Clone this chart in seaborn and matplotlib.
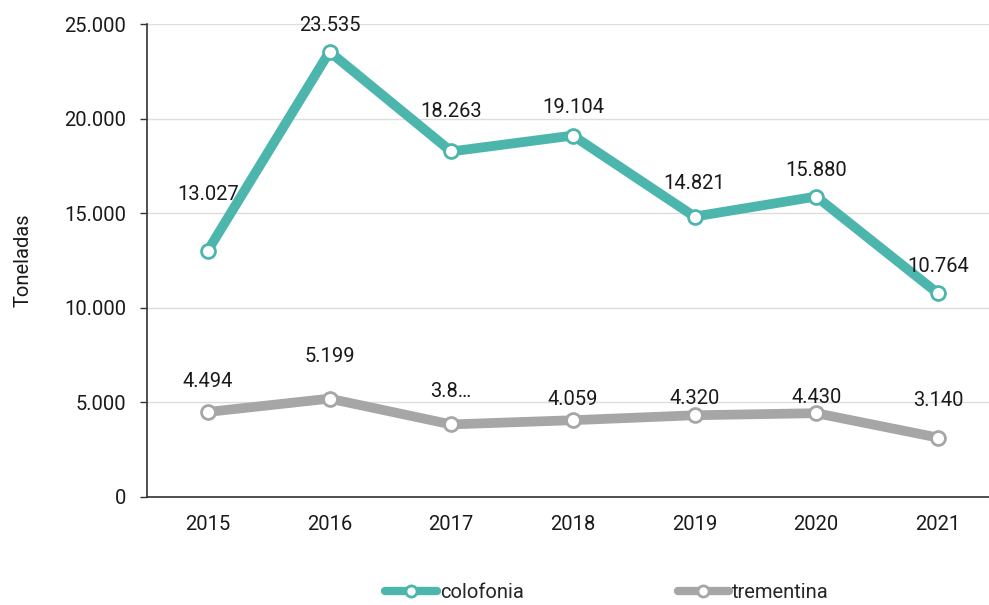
import seaborn as sns
import matplotlib.pyplot as plt
import matplotlib.ticker as mticker
import pandas as pd

years = ["2015", "2016", "2017", "2018", "2019", "2020", "2021"]
colofonia = [13027, 23535, 18263, 19104, 14821, 15880, 10764]
trementina = [4494, 5199, 3836, 4059, 4320, 4430, 3140]
trementina_labels = ["4.494", "5.199", "3.8…", "4.059", "4.320", "4.430", "3.140"]
series_names = ["colofonia", "trementina"]
colors = ["#4DB6AC", "#A6A6A6"]

# label offsets in points (mimic the spreadsheet placement)
col_off = [40, 19, 29, 20, 24, 19, 19]
tre_off = [22, 30, 24, 15, 12, 11, 27]
FS = 14.5


def fmt(v):
    return f"{v:,.0f}".replace(",", ".")


sns.set_style("white")
plt.rcParams["font.family"] = ["Roboto", "DejaVu Sans"]

df = pd.DataFrame({
    "pos": list(range(len(years))) * 2,
    "value": colofonia + trementina,
    "serie": ["colofonia"] * len(years) + ["trementina"] * len(years),
})

fig = plt.figure(figsize=(9.89, 6.05), dpi=100)
ax = fig.add_axes([147 / 989, 108 / 605, 842 / 989, 473 / 605])
sns.lineplot(data=df, x="pos", y="value", hue="serie", hue_order=series_names,
             palette=colors, linewidth=7, marker="o", markersize=10,
             markerfacecolor="white", markeredgewidth=2, ax=ax, legend=False)
for line, c in zip(ax.lines, colors):
    line.set_markeredgecolor(c)

for i, v in enumerate(colofonia):
    ax.annotate(fmt(v), (i, v), xytext=(0, col_off[i]), textcoords="offset points",
                ha="center", va="center", fontsize=FS, color="#1a1a1a")
for i, v in enumerate(trementina):
    ax.annotate(trementina_labels[i], (i, v), xytext=(0, tre_off[i]), textcoords="offset points",
                ha="center", va="center", fontsize=FS, color="#1a1a1a")

ax.set_yticks(range(0, 25001, 5000))
ax.yaxis.set_major_formatter(mticker.FuncFormatter(lambda v, p: fmt(v)))
ax.set_xticks(range(len(years)))
ax.set_xticklabels(years)
ax.set_xticks([x - 0.5 for x in range(len(years) + 1)], minor=True)
ax.set_xlim(-0.5, 6.42)
ax.set_ylim(0, 25000)
ax.tick_params(axis="x", which="major", length=0, pad=13, labelsize=FS, labelcolor="#1a1a1a")
ax.tick_params(axis="x", which="minor", length=5, width=1, color="#333333")
ax.tick_params(axis="y", length=5, width=1, color="#333333", labelsize=FS, pad=10,
               left=True, labelcolor="#1a1a1a")
ax.grid(axis="y", color="#dddddd", linewidth=1)
ax.set_axisbelow(True)
for s in ["top", "right"]:
    ax.spines[s].set_visible(False)
for s in ["left", "bottom"]:
    ax.spines[s].set_color("#333333")
    ax.spines[s].set_linewidth(1.2)
ax.set_xlabel("")
ax.set_ylabel("Toneladas", fontsize=FS, labelpad=23, color="#1a1a1a")

handles = [plt.Line2D([], [], color=c, linewidth=6, marker="o", markersize=8,
                      markerfacecolor="white", markeredgecolor=c, markeredgewidth=2)
           for c in colors]
fig.legend(handles, series_names, loc="center", bbox_to_anchor=(607 / 989, 12 / 605),
           ncol=2, frameon=False, fontsize=FS, handlelength=2.55, handletextpad=0.15,
           columnspacing=7.65)

fig.savefig("out.png", dpi=100)
